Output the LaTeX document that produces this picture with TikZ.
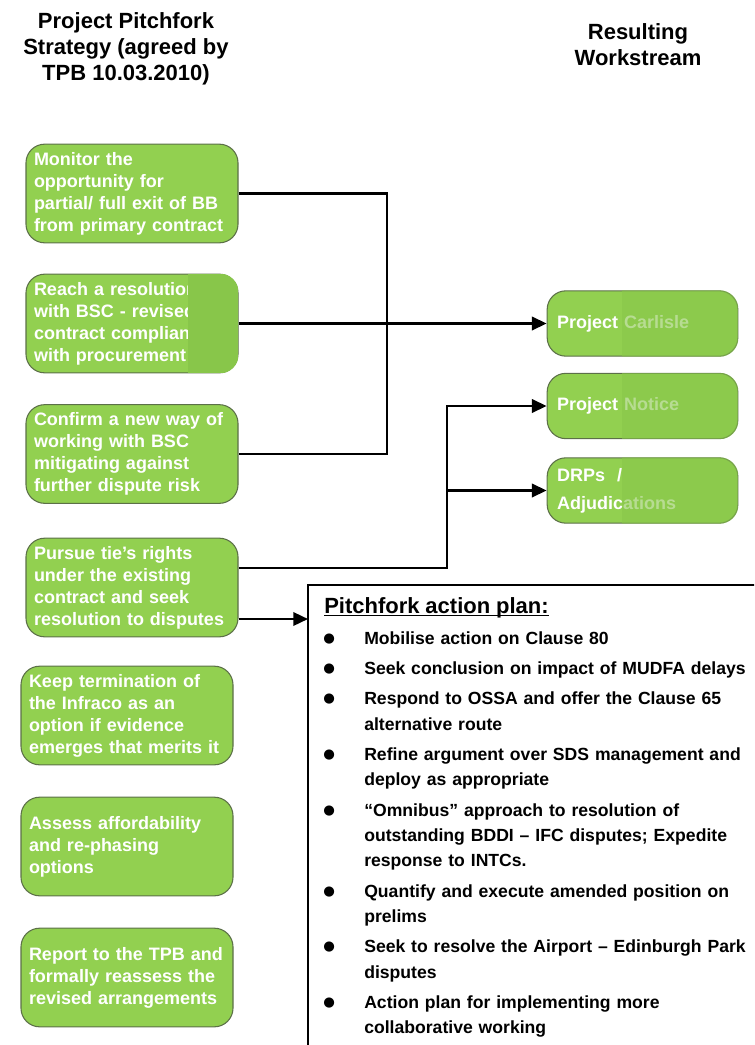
\documentclass[tikz,border=0pt]{standalone}
\usepackage{fontspec}
\setmainfont{Liberation Sans}
\newfontfamily\dotfont{DejaVu Sans}
\usetikzlibrary{arrows.meta,calc}

\definecolor{boxgreen}{RGB}{146,208,80}
\definecolor{boxedge}{RGB}{92,112,72}
\definecolor{patchgreen}{RGB}{136,198,74}

\newcommand{\plandot}{\makebox[0pt][r]{\raisebox{1.5pt}{\dotfont\fontsize{10}{10}\selectfont ●}}}
\newcommand{\planhead}[1]{\setbox0\hbox{#1}\rlap{\rule[-2.4pt]{\wd0}{1.3pt}}\box0}

\tikzset{
  aim/.style={draw=boxedge, line width=.8pt, fill=boxgreen, rounded corners=14pt,
    minimum width=159pt, minimum height=74pt, text width=147pt, inner xsep=6pt,
    align=left, text=white, font=\bfseries\fontsize{13.5}{16.5}\selectfont},
  stream/.style={aim, minimum width=143pt, minimum height=49pt, text width=128pt,
    inner xsep=7.5pt, font=\bfseries\fontsize{13.5}{21}\selectfont},
  head/.style={anchor=north, align=center, inner sep=0pt,
    font=\bfseries\fontsize{16.5}{19.5}\selectfont},
  plan/.style={anchor=north west, inner xsep=12pt, inner ysep=9pt, text width=330pt,
    align=left, font=\bfseries\fontsize{13.2}{19}\selectfont},
  link/.style={line width=1.8pt},
  tip/.style={link, -{Triangle[length=11pt,width=10pt]}}
}

\begin{document}
\begin{tikzpicture}[x=.75pt,y=-.75pt]
\clip (0,0) rectangle (754,1045);
% headings
\node[head] (lefthead) at (126,12.5) {Project Pitchfork\\Strategy (agreed by\\TPB 10.03.2010)};
\node[head] (righthead) at (638,23) {Resulting\\Workstream};
% strategy
\node[aim] (s1) at (132,193.5) {Monitor the\\opportunity for\\partial/ full exit of BB\\from primary contract};
\node[aim] (s2) at (132,323.5) {Reach a resolution\\with BSC - revised\\contract compliant\\with procurement};
\node[aim] (s3) at (132,454) {Confirm a new way of\\working with BSC\\mitigating against\\further dispute risk};
\node[aim] (s4) at (132,587.5) {Pursue tie’s rights\\under the existing\\contract and seek\\resolution to disputes};
\node[aim] (s5) at (127,715.5) {Keep termination of\\the Infraco as an\\option if evidence\\emerges that merits it};
\node[aim] (s6) at (127,846.5) {Assess affordability\\and re-phasing\\options};
\node[aim] (s7) at (127,977.5) {Report to the TPB and\\formally reassess the\\revised arrangements};
% workstreams
\node[stream] (w1) at (642.5,323.5) {Project Carlisle};
\node[stream] (w2) at (642.5,406) {Project Notice};
\node[stream] (w3) at (642.5,490.5) {DRPs\ \ /\\Adjudications};
% blanked out parts
\foreach \nd/\pw/\po in {s2/51/1, w1/116/.6, w2/116/.6, w3/116/.6} {
  \begin{scope}
    \clip[rounded corners=14pt] (\nd.north west) rectangle (\nd.south east);
    \fill[patchgreen, opacity=\po] ($(\nd.north east)+(-\pw,0)$) rectangle (\nd.south east);
  \end{scope}
}
% action plan
\draw[link] (308,1060) |- (770,585);
\node[plan] (plan) at (308,585) {\planhead{\fontsize{16.5}{19}\selectfont Pitchfork action plan:}\par
  \vspace{4.25pt}
  \begin{list}{\plandot}{\leftmargin=30pt \labelwidth=8pt \labelsep=22pt
      \itemsep=3.75pt \parsep=0pt \topsep=0pt \partopsep=0pt}
  \item Mobilise action on Clause 80
  \item Seek conclusion on impact of MUDFA delays
  \item Respond to OSSA and offer the Clause 65\\alternative route
  \item Refine argument over SDS management and\\deploy as appropriate
  \item “Omnibus” approach to resolution of\\outstanding BDDI -- IFC disputes; Expedite\\response to INTCs.
  \item Quantify and execute amended position on\\prelims
  \item Seek to resolve the Airport -- Edinburgh Park\\disputes
  \item Action plan for implementing more\\collaborative working
  \end{list}};
% connectors
\coordinate (j1) at (387,0);
\coordinate (j2) at (447,0);
\coordinate (s4a) at ($(s4.east)+(0,-19.5)$);
\coordinate (s4b) at ($(s4.east)+(0,31.5)$);
\draw[link] (s1.east) -| (j1 |- s3.east) -- (s3.east);
\draw[tip] (s2.east) -- (w1.west);
\draw[tip] (s4a) -| (j2 |- w2.west) -- (w2.west);
\draw[tip] (j2 |- w3.west) -- (w3.west);
\draw[tip] (s4b) -- (plan.west |- s4b);
\end{tikzpicture}
\end{document}
